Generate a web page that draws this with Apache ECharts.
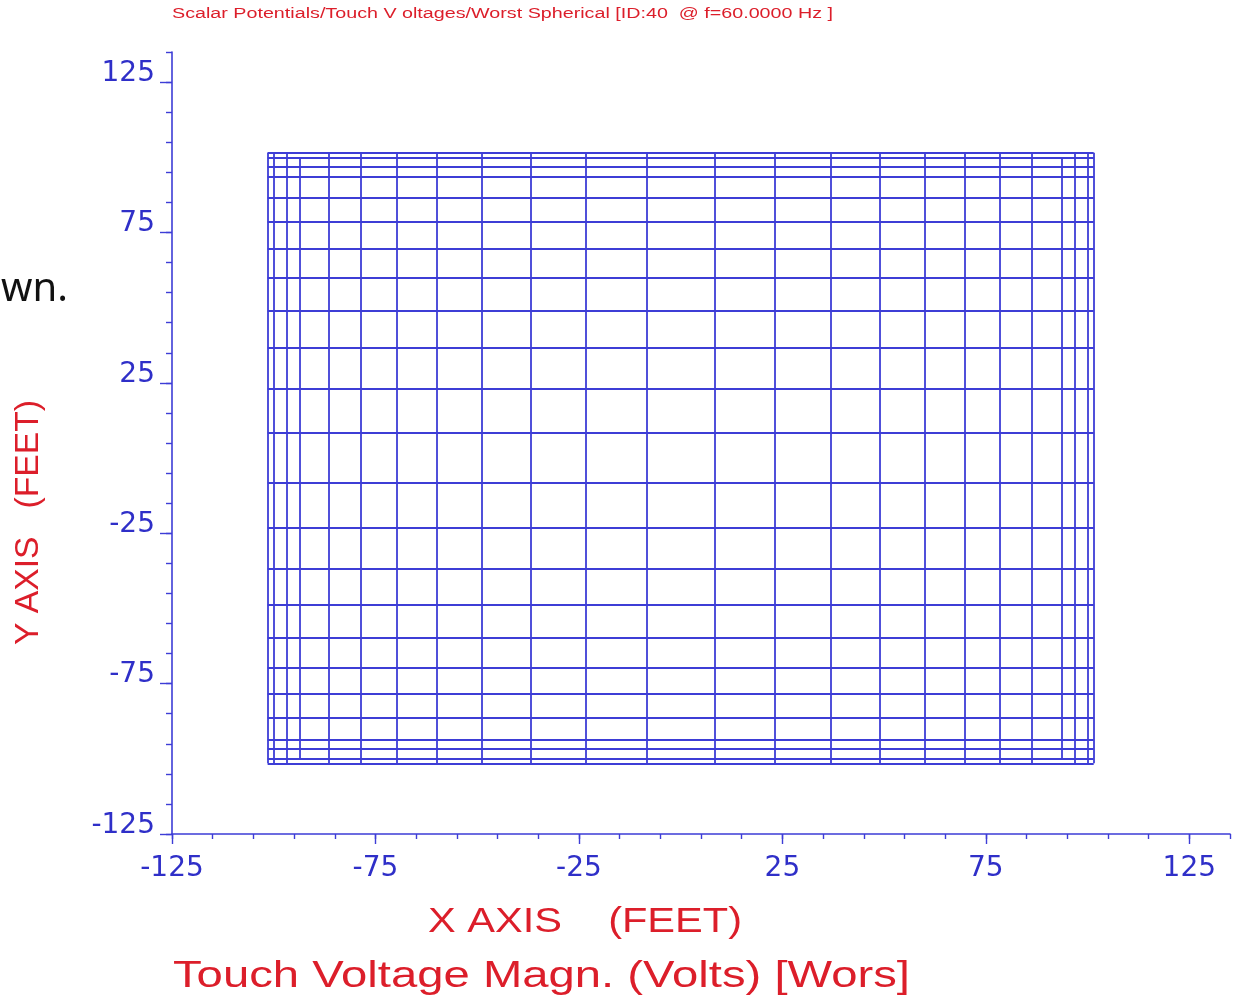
<!DOCTYPE html>
<html>
<head>
<meta charset="utf-8">
<title>Touch Voltage Magn.</title>
<script src="https://cdn.jsdelivr.net/npm/echarts@6/dist/echarts.min.js"></script>
<style>
  html, body { margin: 0; padding: 0; background: #ffffff; }
  #chart { width: 1241px; height: 999px; }
</style>
</head>
<body>
<div id="chart"></div>
<script>
// Conductor positions of the grounding grid (feet)
const conductorX = [-101.5, -100, -96.8, -93.6, -86.4, -78.5, -69.7, -59.9, -48.9, -36.8, -23.2, -8.3,
                    8.3, 23.2, 36.8, 48.9, 59.9, 69.7, 78.5, 86.4, 93.6, 96.8, 100, 101.5];
const conductorY = [-101.5, -100, -96.8, -93.6, -86.4, -78.5, -69.7, -59.9, -48.9, -36.8, -23.2, -8.3,
                    8.3, 23.2, 36.8, 48.9, 59.9, 69.7, 78.5, 86.4, 93.6, 96.8, 100, 101.5];
// Full extent of the conductors, and the shorter extent of the two inner vertical runs
const fullSpan = [-101.5, 101.5];
const innerSpan = [-100, 100];
const shortVerticalX = [-93.6, 93.6];

// Axis range and labelled ticks (feet)
const axisMin = -125;
const axisMax = 135;
const majorTicks = [-125, -75, -25, 25, 75, 125];

const titleText = 'Scalar Potentials/Touch V oltages/Worst Spherical [ID:40  @ f=60.0000 Hz ]';
const xName = 'X AXIS    (FEET)';
const yName = 'Y AXIS   (FEET)';
const bottomText = 'Touch Voltage Magn. (Volts) [Wors]';
const strayText = 'wn.';

const BLUE = '#3d3dd6';
const LABEL_BLUE = '#2f2fc8';
const RED = '#dc1e2a';

const segments = [];
conductorX.forEach(function (x) {
  const span = shortVerticalX.indexOf(x) >= 0 ? innerSpan : fullSpan;
  segments.push({ coords: [[x, span[0]], [x, span[1]]] });
});
conductorY.forEach(function (y) {
  segments.push({ coords: [[fullSpan[0], y], [fullSpan[1], y]] });
});

// Stretch a text horizontally so that it spans a given width
const measureCtx = document.createElement('canvas').getContext('2d');
function fitScale(text, font, width) {
  measureCtx.font = font;
  return width / measureCtx.measureText(text).width;
}

const chart = echarts.init(document.getElementById('chart'), null, { renderer: 'canvas' });

const gridBox = { left: 172, right: 11, top: 52, bottom: 165, containLabel: false };

// Unlabelled axis carrying the axis line and the 10-ft ticks
function minorAxis(dim) {
  return {
    gridIndex: 0,
    type: 'value',
    min: axisMin,
    max: axisMax,
    interval: 10,
    axisLine: { show: true, onZero: false, lineStyle: { color: BLUE, width: 1.6 } },
    axisTick: { show: true, inside: false, length: dim === 'x' ? 5 : 6, lineStyle: { color: BLUE, width: 1.4 } },
    axisLabel: { show: false },
    splitLine: { show: false }
  };
}
// Overlaid axis carrying the long 50-ft ticks and their labels
function majorAxis(dim) {
  return {
    gridIndex: 1,
    type: 'value',
    min: axisMin,
    max: axisMax,
    interval: 50,
    axisLine: { show: false, onZero: false },
    axisTick: { show: true, inside: false, customValues: majorTicks, length: dim === 'x' ? 10 : 12,
                lineStyle: { color: BLUE, width: 1.4 } },
    axisLabel: dim === 'x' ? {
      customValues: majorTicks,
      color: LABEL_BLUE, fontFamily: 'DejaVu Sans', fontSize: 28, margin: 21
    } : {
      customValues: majorTicks,
      color: LABEL_BLUE, fontFamily: 'DejaVu Sans', fontSize: 28, margin: 17,
      verticalAlign: 'bottom', lineHeight: 17
    },
    splitLine: { show: false }
  };
}

const titleFont = '14px "Liberation Sans"';
const xNameFont = '35px "Liberation Sans"';
const yNameFont = '34px "Liberation Sans"';
const bottomFont = '37px "Liberation Sans"';

chart.setOption({
  backgroundColor: '#ffffff',
  animation: false,
  grid: [Object.assign({}, gridBox), Object.assign({}, gridBox)],
  xAxis: [minorAxis('x'), majorAxis('x')],
  yAxis: [minorAxis('y'), majorAxis('y')],
  series: [{
    type: 'lines',
    coordinateSystem: 'cartesian2d',
    xAxisIndex: 0,
    yAxisIndex: 0,
    silent: true,
    lineStyle: { color: BLUE, width: 1.8, opacity: 1 },
    data: segments
  }],
  graphic: [
    { type: 'text', left: 172, top: 7, scaleX: fitScale(titleText, titleFont, 661),
      style: { text: titleText, font: titleFont, fill: RED } },
    { type: 'text', x: 428, y: 905, scaleX: fitScale(xName, xNameFont, 314),
      style: { text: xName, font: xNameFont, fill: RED } },
    { type: 'text', x: 12, y: 645, rotation: Math.PI / 2, scaleX: fitScale(yName, yNameFont, 245),
      style: { text: yName, font: yNameFont, fill: RED } },
    { type: 'text', x: 173, y: 958, scaleX: fitScale(bottomText, bottomFont, 737),
      style: { text: bottomText, font: bottomFont, fill: RED } },
    { type: 'text', x: 1, y: 270, style: { text: strayText, font: '40px "Noto Sans"', fill: '#111111' } }
  ]
});
</script>
</body>
</html>
